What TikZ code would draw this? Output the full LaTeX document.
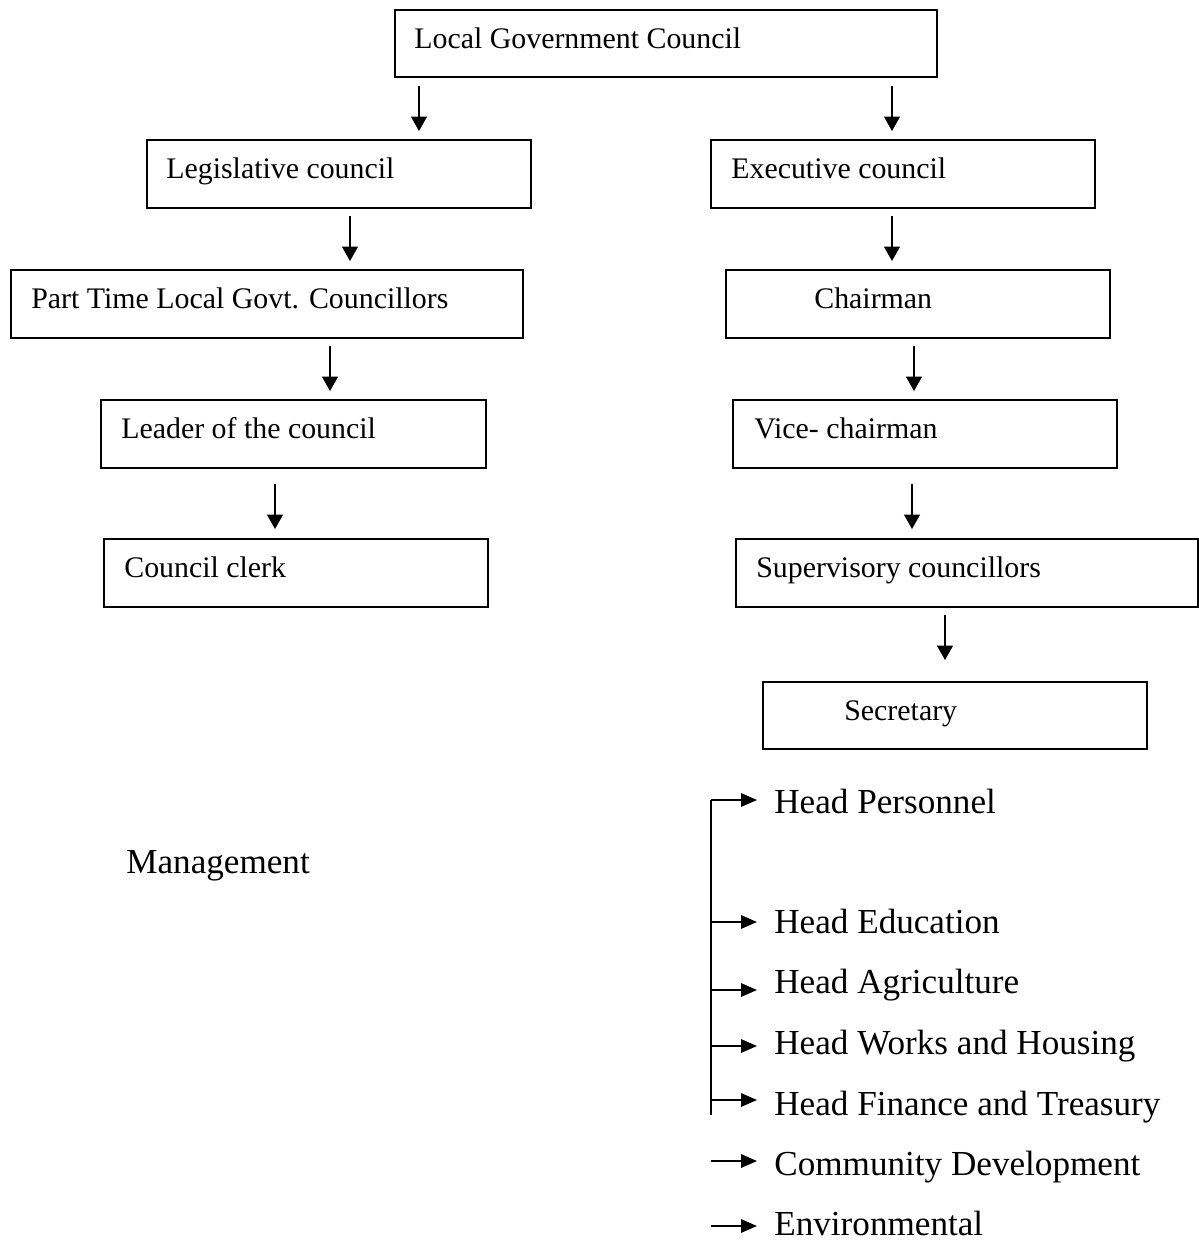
\documentclass[tikz,border=0pt]{standalone}
\usepackage{fontspec}
\setmainfont{Liberation Serif}
\usetikzlibrary{arrows.meta}
\tikzset{
  orgbox/.style={draw, line width=1.1pt, rectangle, inner sep=0pt, outer sep=0pt},
  btext/.style={inner sep=0pt, anchor=base west, font=\fontsize{17}{20}\selectfont},
  ltext/.style={inner sep=0pt, anchor=base west, font=\fontsize{20}{24}\selectfont},
  varr/.style={line width=0.85pt, -{Triangle[length=0.29cm,width=0.32cm]}},
  harr/.style={line width=0.85pt, -{Triangle[length=0.32cm,width=0.27cm]}},
  brline/.style={line width=0.85pt},
}
\newcommand\orgboxat[5]{%
  \node[orgbox, minimum width={(#4-#2)*0.02cm}, minimum height={(#5-#3)*0.02cm}, anchor=north west] (#1) at (#2,#3) {};}
\newcommand\varrow[4]{%
  \coordinate (#1s) at (#2,#3); \coordinate (#1e) at (#2,#4);
  \draw[varr] (#1s) -- (#1e);}
\begin{document}
\begin{tikzpicture}[x=0.02cm, y=-0.02cm]
\useasboundingbox (0,0) rectangle (1199,1241);

% Boxes
\orgboxat{lgc}{395}{10}{937}{77}
\node[btext] (lgct) at (414,48) {Local Government Council};

\orgboxat{leg}{147}{140}{531}{208}
\node[btext] (legt) at (166,178) {Legislative council};
\orgboxat{exe}{711}{140}{1095}{208}
\node[btext] (exet) at (731,178) {Executive council};

\orgboxat{pt}{11}{270}{523}{338}
\node[btext] (ptt) at (31,308) {Part Time Local Govt. Councillors};
\orgboxat{chr}{726}{270}{1110}{338}
\node[btext] (chrt) at (814,308) {Chairman};

\orgboxat{ldr}{101}{400}{486}{468}
\node[btext] (ldrt) at (121,438) {Leader of the council};
\orgboxat{vch}{733}{400}{1117}{468}
\node[btext] (vcht) at (754,438) {Vice- chairman};

\orgboxat{clk}{104}{539}{488}{607}
\node[btext] (clkt) at (124,577) {Council clerk};
\orgboxat{sup}{736}{539}{1198}{607}
\node[btext] (supt) at (756,577) {Supervisory councillors};

\orgboxat{sec}{763}{682}{1147}{749}
\node[btext] (sect) at (844,720) {Secretary};

% Vertical arrows
\varrow{a1}{419}{86}{131}
\varrow{a2}{892}{86}{131}
\varrow{a3}{350}{216}{261}
\varrow{a4}{892}{216}{261}
\varrow{a5}{330}{346}{391}
\varrow{a6}{914}{346}{391}
\varrow{a7}{275}{484}{529}
\varrow{a8}{912}{484}{529}
\varrow{a9}{945}{615}{660}

% Management
\node[ltext] (mgmt) at (126,873) {Management};

% Bracket and department arrows
\coordinate (brtop) at (711,800);
\coordinate (brbot) at (711,1115);
\coordinate (t1) at (757,800);
\draw[brline] (brbot) -- (brtop);
\draw[harr] (brtop) -- (t1);
\coordinate (s2) at (711,922); \coordinate (t2) at (757,922);
\draw[harr] (s2) -- (t2);
\coordinate (s3) at (711,990); \coordinate (t3) at (757,990);
\draw[harr] (s3) -- (t3);
\coordinate (s4) at (711,1046); \coordinate (t4) at (757,1046);
\draw[harr] (s4) -- (t4);
\coordinate (s5) at (711,1100); \coordinate (t5) at (757,1100);
\draw[harr] (s5) -- (t5);
\coordinate (s6) at (711,1161); \coordinate (t6) at (757,1161);
\draw[harr] (s6) -- (t6);
\coordinate (s7) at (711,1226); \coordinate (t7) at (757,1226);
\draw[harr] (s7) -- (t7);

\node[ltext] (d1) at (774,813) {Head Personnel};
\node[ltext] (d2) at (774,933) {Head Education};
\node[ltext] (d3) at (774,993) {Head Agriculture};
\node[ltext] (d4) at (774,1054) {Head Works and Housing};
\node[ltext] (d5) at (774,1115) {Head Finance and Treasury};
\node[ltext] (d6) at (774,1175) {Community Development};
\node[ltext] (d7) at (774,1235) {Environmental};
\end{tikzpicture}
\end{document}
